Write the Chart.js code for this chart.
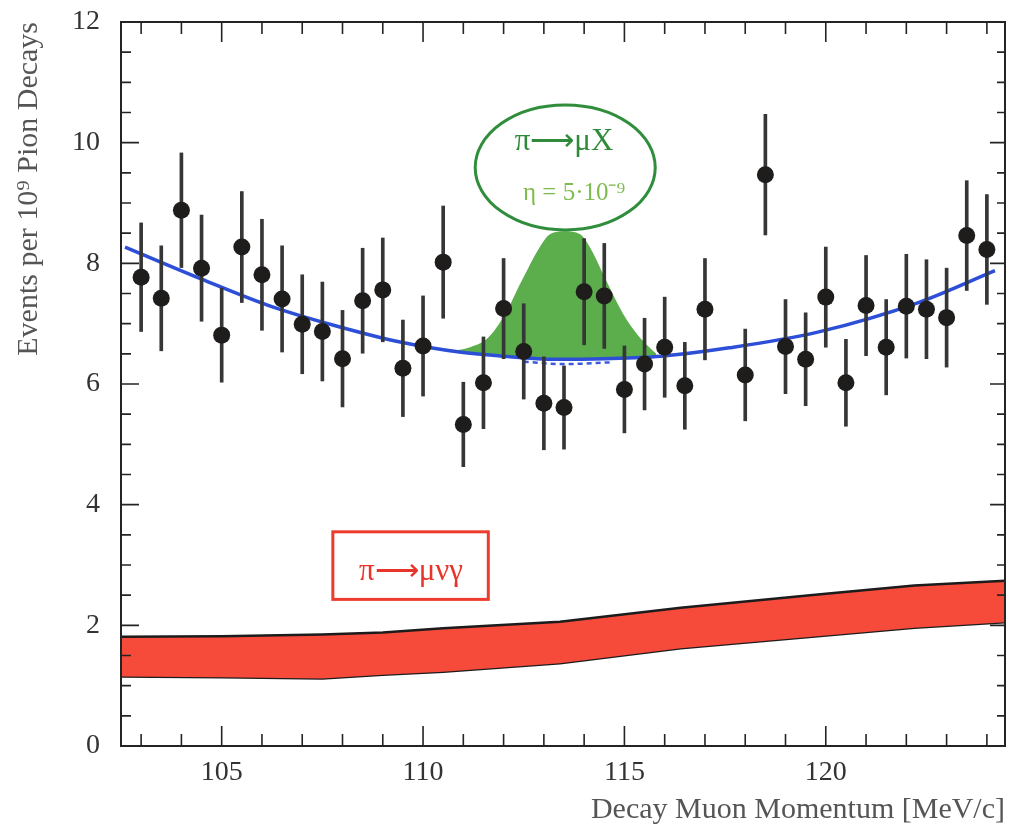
<!DOCTYPE html>
<html>
<head>
<meta charset="utf-8">
<script src="https://cdn.jsdelivr.net/npm/chart.js"></script>
<style>
  html, body { margin: 0; padding: 0; background: #fff; }
  #muonChart { display: block; }
</style>
</head>
<body>
<canvas id="muonChart" width="1009" height="831"></canvas>
<script>
// measured bins (MeV/c) and events per 1e9 pion decays
const momentum = [103, 103.5, 104, 104.5, 105, 105.5, 106, 106.5, 107, 107.5, 108, 108.5, 109, 109.5, 110, 110.5,
    111, 111.5, 112, 112.5, 113, 113.5, 114, 114.5, 115, 115.5, 116, 116.5, 117, 118, 118.5, 119, 119.5,
    120, 120.5, 121, 121.5, 122, 122.5, 123, 123.5, 124];
const events = [7.77, 7.42, 8.88, 7.92, 6.81, 8.27, 7.81, 7.41, 6.99, 6.87, 6.42, 7.38, 7.56, 6.26, 6.63, 8.02,
    5.33, 6.02, 7.25, 6.54, 5.68, 5.61, 7.53, 7.46, 5.91, 6.33, 6.61, 5.97, 7.24, 6.15, 9.47, 6.62, 6.41,
    7.44, 6.02, 7.30, 6.61, 7.29, 7.24, 7.10, 8.46, 8.23];
const eventErrors = [0.90, 0.87, 0.95, 0.88, 0.78, 0.92, 0.92, 0.88, 0.82, 0.82, 0.80, 0.87, 0.86, 0.80, 0.83, 0.93,
    0.70, 0.76, 0.83, 0.79, 0.77, 0.69, 0.88, 0.87, 0.72, 0.76, 0.83, 0.72, 0.84, 0.76, 1.00, 0.78, 0.77,
    0.83, 0.72, 0.83, 0.79, 0.86, 0.82, 0.82, 0.91, 0.91];

// background fit (blue)
const fitX = [102.6, 104.5, 106.3, 107.8, 109.4, 110.9, 112, 113.3, 114.5, 115.9, 117.6, 119.8, 122.3, 124.2];
const fitY = [8.27, 7.74, 7.27, 6.97, 6.70, 6.53, 6.46, 6.41, 6.42, 6.46, 6.60, 6.86, 7.35, 7.88];

// fit without signal under the peak (dashed)
const bareFitX = [112.5, 113.5, 114.7];
const bareFitY = [6.37, 6.33, 6.36];

// pi -> mu X signal, eta = 5e-9 (green)
const signalX = [110.75, 111.17, 111.62, 112.04, 112.45, 112.9, 113.15, 113.52, 113.9, 114.14, 114.55, 114.97, 115.38, 115.79];
const signalY = [6.55, 6.61, 6.77, 7.16, 7.71, 8.27, 8.48, 8.53, 8.48, 8.27, 7.71, 7.16, 6.77, 6.50];

// pi -> mu nu gamma band (red)
const bandX = [102.5, 105, 107.5, 109, 110.5, 113.4, 116.4, 119.8, 122.2, 124.45];
const bandUpper = [1.81, 1.82, 1.85, 1.88, 1.95, 2.06, 2.29, 2.51, 2.66, 2.74];
const bandLower = [1.15, 1.14, 1.12, 1.18, 1.23, 1.37, 1.62, 1.82, 1.96, 2.05];

// tick labels
const xTicks = [105, 110, 115, 120];
const yTicks = [0, 2, 4, 6, 8, 10, 12];

const serif = '"Liberation Serif", "Times New Roman", serif';

function pairs(xs, ys) {
    return xs.map((x, i) => ({ x: x, y: ys[i] }));
}

// frame, inward ticks and the labels drawn inside the plot
const framePlugin = {
    id: 'framePlugin',
    afterDatasetsDraw(chart) {
        const { ctx, chartArea: a, scales: { x, y } } = chart;
        ctx.save();

        // green ellipse with label
        const cx = x.getPixelForValue(113.53), cy = y.getPixelForValue(9.59);
        const rx = x.getPixelForValue(113.53 + 2.235) - cx;
        const ry = cy - y.getPixelForValue(9.59 + 1.036);
        ctx.beginPath();
        ctx.ellipse(cx, cy, rx, ry, 0, 0, Math.PI * 2);
        ctx.fillStyle = '#ffffff';
        ctx.fill();
        ctx.lineWidth = 3;
        ctx.strokeStyle = '#2f8d3c';
        ctx.stroke();

        ctx.textAlign = 'center';
        ctx.textBaseline = 'alphabetic';
        ctx.fillStyle = '#2f8a3a';
        ctx.font = '31px ' + serif;
        ctx.fillText('π⟶μX', x.getPixelForValue(113.5), y.getPixelForValue(9.88));
        ctx.fillStyle = '#80bb50';
        ctx.font = '25px ' + serif;
        ctx.fillText('η = 5·10⁻⁹', x.getPixelForValue(113.75), y.getPixelForValue(9.05));

        // red label box
        const bx0 = x.getPixelForValue(107.76), bx1 = x.getPixelForValue(111.62);
        const by0 = y.getPixelForValue(3.55), by1 = y.getPixelForValue(2.43);
        ctx.lineWidth = 3;
        ctx.strokeStyle = '#ee3b2e';
        ctx.strokeRect(bx0, by0, bx1 - bx0, by1 - by0);
        ctx.fillStyle = '#e8342a';
        ctx.font = '31px ' + serif;
        ctx.fillText('π⟶μνγ', x.getPixelForValue(109.7), y.getPixelForValue(2.75));

        // frame
        ctx.strokeStyle = '#242424';
        ctx.lineWidth = 2;
        ctx.strokeRect(a.left, a.top, a.right - a.left, a.bottom - a.top);

        // inward ticks
        ctx.lineWidth = 1.6;
        ctx.beginPath();
        for (let v = 103; v <= 124; v++) {
            const px = x.getPixelForValue(v);
            const len = xTicks.includes(v) ? 20 : 12;
            ctx.moveTo(px, a.bottom); ctx.lineTo(px, a.bottom - len);
            ctx.moveTo(px, a.top); ctx.lineTo(px, a.top + len);
        }
        for (let v = 0; v <= 12; v += 0.5) {
            const py = y.getPixelForValue(v);
            const major = yTicks.includes(v);
            ctx.moveTo(a.left, py); ctx.lineTo(a.left + (major ? 18 : 10), py);
            ctx.moveTo(a.right, py); ctx.lineTo(a.right - (major ? 15 : 8), py);
        }
        ctx.stroke();
        ctx.restore();
    }
};

const ctx = document.getElementById('muonChart').getContext('2d');
const muonChart = new Chart(ctx, {
    type: 'line',
    data: {
        datasets: [{
            // 0: data points
            data: pairs(momentum, events),
            showLine: false,
            pointRadius: 8.5,
            pointBackgroundColor: '#1f1c1c',
            pointBorderWidth: 0,
            order: 0
        }, {
            // 1: error bars
            type: 'bar',
            data: momentum.map((m, i) => ({ x: m, y: [events[i] - eventErrors[i], events[i] + eventErrors[i]] })),
            backgroundColor: '#363636',
            borderWidth: 0,
            barThickness: 3,
            grouped: false,
            order: 1
        }, {
            // 2: fit
            data: pairs(fitX, fitY),
            borderColor: '#2d4fd8',
            borderWidth: 3.5,
            pointRadius: 0,
            cubicInterpolationMode: 'monotone',
            fill: false,
            order: 2
        }, {
            // 3: fit without signal
            data: pairs(bareFitX, bareFitY),
            borderColor: '#3a5be0',
            borderWidth: 2.5,
            borderDash: [5, 4],
            pointRadius: 0,
            cubicInterpolationMode: 'monotone',
            fill: false,
            order: 3
        }, {
            // 4: signal
            data: pairs(signalX, signalY),
            borderWidth: 0,
            borderColor: 'rgba(0,0,0,0)',
            backgroundColor: '#5bae4b',
            pointRadius: 0,
            cubicInterpolationMode: 'monotone',
            fill: { target: 2 },
            order: 4
        }, {
            // 5: radiative band, upper edge
            data: pairs(bandX, bandUpper),
            borderColor: '#1c1c1c',
            borderWidth: 2.5,
            backgroundColor: '#f64a3b',
            pointRadius: 0,
            fill: { target: 6 },
            order: 5
        }, {
            // 6: radiative band, lower edge
            data: pairs(bandX, bandLower),
            borderColor: '#1c1c1c',
            borderWidth: 2.5,
            pointRadius: 0,
            fill: false,
            order: 6
        }]
    },
    options: {
        responsive: false,
        animation: false,
        devicePixelRatio: 1,
        layout: { autoPadding: false, padding: { top: 22, right: 4, left: 0, bottom: 0 } },
        plugins: {
            legend: { display: false },
            tooltip: { enabled: false }
        },
        scales: {
            x: {
                type: 'linear',
                min: 102.5,
                max: 124.45,
                offset: false,
                grid: { display: false, drawTicks: false },
                border: { display: false },
                afterBuildTicks: s => { s.ticks = xTicks.map(v => ({ value: v })); },
                afterFit: s => { s.height = 85; s.paddingLeft = 0; s.paddingRight = 0; },
                ticks: {
                    font: { family: serif, size: 28 },
                    color: '#333',
                    padding: 10,
                    maxRotation: 0
                },
                title: {
                    display: true,
                    text: 'Decay Muon Momentum [MeV/c]',
                    align: 'end',
                    color: '#555',
                    font: { family: serif, size: 30 },
                    padding: { top: 0, bottom: 3 }
                }
            },
            y: {
                type: 'linear',
                min: 0,
                max: 12,
                grid: { display: false, drawTicks: false },
                border: { display: false },
                afterBuildTicks: s => { s.ticks = yTicks.map(v => ({ value: v })); },
                afterFit: s => { s.width = 121; s.paddingTop = 0; s.paddingBottom = 0; },
                ticks: {
                    font: { family: serif, size: 28 },
                    color: '#333',
                    padding: 21
                },
                title: {
                    display: true,
                    text: 'Events per 10⁹ Pion Decays',
                    align: 'end',
                    color: '#555',
                    font: { family: serif, size: 30 },
                    padding: { top: 11, bottom: 0 }
                }
            }
        }
    },
    plugins: [framePlugin]
});
</script>
</body>
</html>
